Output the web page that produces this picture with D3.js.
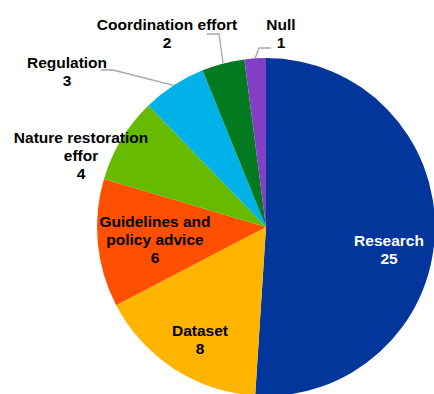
<!DOCTYPE html>
<html>
<head>
<meta charset="utf-8">
<script src="https://cdn.jsdelivr.net/npm/d3@7"></script>
<style>
  body { margin: 0; background: #fff; }
  svg { display: block; }
</style>
</head>
<body>
<script>
const width = 434;
const height = 394;

// data
const categories = [
  "Research",
  "Dataset",
  "Guidelines and policy advice",
  "Nature restoration effor",
  "Regulation",
  "Coordination effort",
  "Null",
];
const values = [25, 8, 6, 4, 3, 2, 1];
const colors = ["#02369a", "#ffb400", "#ff4f00", "#66ba00", "#00b2e8", "#037a20", "#8340c6"];

// label layout (lines, anchor point, text colour, leader elbow points)
const labelLines = [
  ["Research", "25"],
  ["Dataset", "8"],
  ["Guidelines and", "policy advice", "6"],
  ["Nature restoration", "effor", "4"],
  ["Regulation", "3"],
  ["Coordination effort", "2"],
  ["Null", "1"],
];
const labelPos = [
  [389, 246],
  [200, 336],
  [155, 227],
  [81, 143],
  [67, 68],
  [167, 30],
  [281, 30],
];
const labelFill = ["#fff", "#000", "#000", "#000", "#000", "#000", "#000"];
const leaders = [
  null,
  null,
  null,
  null,
  [[113, 70], [101, 70]],
  [[219, 34], [207, 34]],
  [[259, 48], [271, 48]],
];

const cx = 266;
const cy = 227;
const radius = 169;

const svg = d3
  .select("body")
  .append("svg")
  .attr("width", width)
  .attr("height", height);

const datos = categories.map((c, i) => ({ name: c, value: values[i], i }));

const pie = d3
  .pie()
  .value((d) => d.value)
  .sort(null);

const arc = d3.arc().innerRadius(0).outerRadius(radius);

const arcs = pie(datos);

const contenedorPie = svg
  .append("g")
  .attr("transform", `translate(${cx}, ${cy})`);

contenedorPie
  .selectAll("path")
  .data(arcs)
  .join("path")
  .attr("d", arc)
  .attr("fill", (d) => colors[d.data.i])
  .attr("stroke", "none");

// leader lines from the slice edge at its middle angle
const lineas = svg.append("g");
arcs.forEach((d) => {
  const codos = leaders[d.data.i];
  if (!codos) return;
  const ang = (d.startAngle + d.endAngle) / 2;
  const inicio = [cx + radius * Math.sin(ang), cy - radius * Math.cos(ang)];
  lineas
    .append("path")
    .attr("d", d3.line()([inicio, ...codos]))
    .attr("fill", "none")
    .attr("stroke", "#a6a6a6")
    .attr("stroke-width", 1.3);
});

const etiquetas = svg
  .append("g")
  .attr("font-family", "'Liberation Sans', Arial, sans-serif")
  .attr("font-weight", "bold")
  .attr("font-size", "15.5px")
  .attr("text-anchor", "middle");

arcs.forEach((d) => {
  const i = d.data.i;
  const [x, y] = labelPos[i];
  const t = etiquetas
    .append("text")
    .attr("x", x)
    .attr("y", y)
    .attr("fill", labelFill[i]);
  labelLines[i].forEach((linea, k) => {
    t.append("tspan")
      .attr("x", x)
      .attr("dy", k === 0 ? 0 : 18)
      .text(linea);
  });
});
</script>
</body>
</html>
